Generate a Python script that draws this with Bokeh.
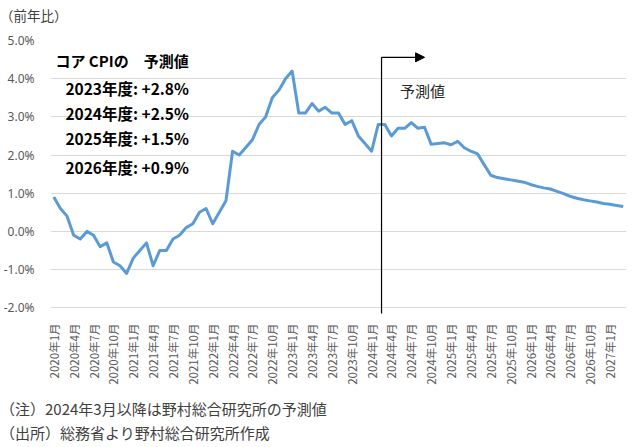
import math
from bokeh.plotting import figure
from bokeh.layouts import column
from bokeh.models import Range1d, FixedTicker, PrintfTickFormatter, Label, Arrow, NormalHead, Div
from bokeh.embed import file_html
from bokeh.resources import INLINE

# ---- data ----
month_labels = [f"{y}年{m}月" for y in range(2020, 2028) for m in range(1, 13)][:87]
core_cpi = [
    0.9, 0.6, 0.4, -0.1, -0.2, 0.0, -0.1, -0.4, -0.3, -0.8, -0.9, -1.1,
    -0.7, -0.5, -0.3, -0.9, -0.5, -0.5, -0.2, -0.1, 0.1, 0.2, 0.5, 0.6,
    0.2, 0.5, 0.8, 2.1, 2.0, 2.2, 2.4, 2.8, 3.0, 3.5, 3.7, 4.0,
    4.2, 3.1, 3.1, 3.35, 3.15, 3.25, 3.1, 3.1, 2.8, 2.9, 2.5, 2.3,
    2.1, 2.8, 2.8, 2.5, 2.7, 2.7, 2.85, 2.7, 2.73, 2.28, 2.3, 2.32,
    2.27, 2.36, 2.19, 2.1, 2.03, 1.75, 1.47, 1.41, 1.38, 1.35, 1.32, 1.29,
    1.23, 1.18, 1.14, 1.11, 1.05, 0.99, 0.92, 0.87, 0.83, 0.80, 0.77, 0.73,
    0.71, 0.68, 0.65,
]
y_ticks = [-2, -1, 0, 1, 2, 3, 4, 5]
x_tick_idx = list(range(0, 87, 3))
box_title = "コア CPIの　予測値"
box_lines = ["2023年度: +2.8%", "2024年度: +2.5%", "2025年度: +1.5%", "2026年度: +0.9%"]
forecast_label = "予測値"
unit_label = "（前年比）"
notes = ["（注）2024年3月以降は野村総合研究所の予測値", "（出所）総務省より野村総合研究所作成"]
forecast_start = 49.5  # between 2024年2月 and 2024年3月

JP = "Noto Sans CJK JP"
W = 630


def text_div(t, h, lh, size):
    return Div(text=t, width=W, height=h, margin=0,
               styles={"font-family": f"'{JP}'", "font-size": size, "color": "#404040",
                       "line-height": lh, "white-space": "nowrap", "margin": "0", "padding": "0"})


top = text_div(unit_label, 30, "30px", "13.5px")

# main chart
p = figure(width=W, height=360, output_backend="svg", toolbar_location=None,
           x_range=Range1d(-0.5, 86.5), y_range=Range1d(-2.15, 5.0),
           min_border_left=44, min_border_right=4, min_border_top=10, min_border_bottom=77)
p.outline_line_color = None
p.background_fill_color = "white"
p.border_fill_color = "white"

x = list(range(len(core_cpi)))
p.line(x, core_cpi, line_color="#5B9BD5", line_width=3, line_join="round")

p.xgrid.visible = False
p.ygrid.ticker = FixedTicker(ticks=y_ticks)
p.ygrid.grid_line_color = "#D9D9D9"
p.ygrid.grid_line_width = 1

p.yaxis.ticker = FixedTicker(ticks=y_ticks)
p.yaxis.formatter = PrintfTickFormatter(format="%.1f%%")
p.yaxis.axis_line_color = None
p.yaxis.major_tick_line_color = None
p.yaxis.minor_tick_line_color = None
p.yaxis.major_label_standoff = 10
p.yaxis.major_label_text_font = "Noto Sans"
p.yaxis.major_label_text_font_size = "12px"
p.yaxis.major_label_text_color = "#595959"

p.xaxis.ticker = FixedTicker(ticks=x_tick_idx)
p.xaxis.major_label_overrides = {i: month_labels[i] for i in x_tick_idx}
p.xaxis.major_label_orientation = math.pi / 2
p.xaxis.axis_line_color = None
p.xaxis.major_tick_line_color = None
p.xaxis.minor_tick_line_color = None
p.xaxis.major_label_standoff = 4
p.xaxis.major_label_text_font = JP
p.xaxis.major_label_text_font_size = "11.5px"
p.xaxis.major_label_text_color = "#595959"

# forecast marker
p.add_layout(Arrow(end=None, x_start=forecast_start, y_start=-2.3, x_end=forecast_start, y_end=4.56,
                   line_color="black", line_width=1.2))
p.add_layout(Arrow(end=NormalHead(size=9, fill_color="black", line_color="black"),
                   x_start=forecast_start, y_start=4.56, x_end=56.0, y_end=4.56,
                   line_color="black", line_width=1.2))
p.add_layout(Label(x=52.3, y=3.69, text=forecast_label, text_font=JP, text_font_size="15px",
                   text_color="#262626", text_baseline="middle"))

# forecast box
p.add_layout(Label(x=0.25, y=4.48, text=box_title, text_font=JP, text_font_size="15px",
                   text_font_style="bold", text_color="black", text_baseline="middle"))
for yv, t in zip([3.76, 3.09, 2.44, 1.70], box_lines):
    p.add_layout(Label(x=1.75, y=yv, text=t, text_font=JP, text_font_size="15.5px",
                       text_font_style="bold", text_color="black", text_baseline="middle"))

note1 = text_div(notes[0], 31, "38px", "15px")
note2 = text_div(notes[1], 24, "24px", "15px")

layout = column(top, p, note1, note2, spacing=0)
open("out.html", "w").write(file_html(layout, INLINE))
